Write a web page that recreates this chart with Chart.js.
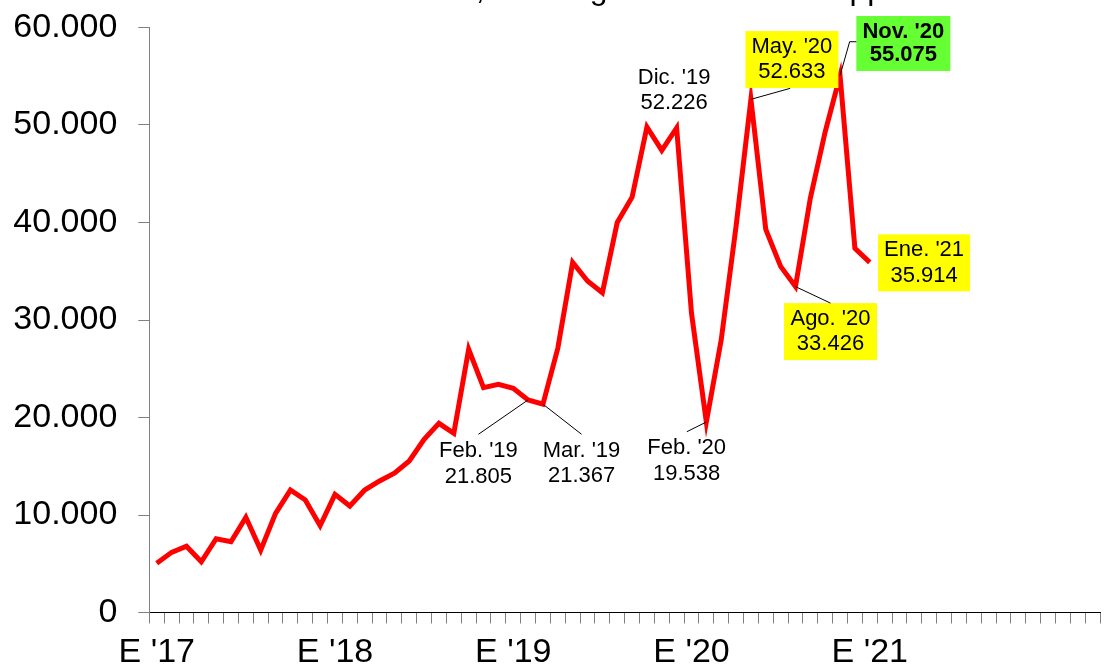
<!DOCTYPE html>
<html>
<head>
<meta charset="utf-8">
<script src="https://cdn.jsdelivr.net/npm/chart.js@4"></script>
<style>
  html, body { margin: 0; padding: 0; background: #fff; }
  #wrap { width: 1107px; height: 667px; }
</style>
</head>
<body>
<div id="wrap"><canvas id="chart"></canvas></div>
<script>
// months Jan 2017 .. Apr 2022 (axis runs past the data)
const months = [
  "Ene '17","Feb '17","Mar '17","Abr '17","May '17","Jun '17","Jul '17","Ago '17","Sep '17","Oct '17","Nov '17","Dic '17",
  "Ene '18","Feb '18","Mar '18","Abr '18","May '18","Jun '18","Jul '18","Ago '18","Sep '18","Oct '18","Nov '18","Dic '18",
  "Ene '19","Feb '19","Mar '19","Abr '19","May '19","Jun '19","Jul '19","Ago '19","Sep '19","Oct '19","Nov '19","Dic '19",
  "Ene '20","Feb '20","Mar '20","Abr '20","May '20","Jun '20","Jul '20","Ago '20","Sep '20","Oct '20","Nov '20","Dic '20",
  "Ene '21","Feb '21","Mar '21","Abr '21","May '21","Jun '21","Jul '21","Ago '21","Sep '21","Oct '21","Nov '21","Dic '21",
  "Ene '22","Feb '22","Mar '22","Abr '22"
];

const ventas = [
  5050, 6170, 6800, 5200, 7570, 7260, 9760, 6400, 10170, 12560, 11540, 8900,
  12120, 10920, 12560, 13490, 14280, 15540, 17760, 19400, 18380, 27000, 23060, 23400,
  23000, 21805, 21367, 27100, 35900, 34000, 32800, 40000, 42600, 49800, 47400, 49700,
  30700, 19538, 27950, 39600, 52633, 39300, 35500, 33426, 42500, 49300, 55075, 37350,
  35914
];

// tick labels shown every 12 months
const yearTicks = ["E '17", "E '18", "E '19", "E '20", "E '21"];
const yTicks = [0, 10000, 20000, 30000, 40000, 50000, 60000];

// callout texts
const calloutIdx = [35, 25, 26, 37, 40, 46, 48, 43];
const calloutText = [
  ["Dic. '19", "52.226"],
  ["Feb. '19", "21.805"],
  ["Mar. '19", "21.367"],
  ["Feb. '20", "19.538"],
  ["May. '20", "52.633"],
  ["Nov. '20", "55.075"],
  ["Ene. '21", "35.914"],
  ["Ago. '20", "33.426"]
];

const titleText = "Ventas mensuales, descargas totales de la app";

const FONT = "'Liberation Sans', Arial, sans-serif";
const fmt = v => String(v).replace(/\B(?=(\d{3})+(?!\d))/g, ".");

// placement of each callout relative to its point
const calloutStyle = [
  { dx: -2.5, dy: -37.4 },
  { dx: -49.7, dy: 63.8, lead: [[-49.7, 34.4]] },
  { dx: 38.6, dy: 59.3, lead: [[38.6, 30.1]] },
  { dx: -19.7, dy: 39, lead: [[-19.5, 9.7]] },
  { dx: 41, dy: -39.8, box: "#ffff00", w: 93, h: 57, lead: [[39.3, -11]] },
  { dx: 63.3, dy: -32, box: "#66ff33", w: 94, h: 55, bold: true, gap: 23.3, lead: [[9.6, -33.8], [16.3, -33.8]] },
  { dx: 54.3, dy: 0.5, box: "#ffff00", w: 92, h: 57 },
  { dx: 35, dy: 45, box: "#ffff00", w: 93, h: 57, lead: [[35, 16.5]] }
];

const calloutPlugin = {
  id: "callouts",
  afterDatasetsDraw(chart) {
    const { ctx, scales } = chart;
    ctx.save();
    calloutIdx.forEach((idx, k) => {
      const st = calloutStyle[k];
      const px = scales.x.getPixelForValue(idx);
      const py = scales.y.getPixelForValue(ventas[idx]);
      const cx = px + st.dx;
      const cy = py + st.dy;

      if (st.box) {
        ctx.fillStyle = st.box;
        ctx.fillRect(cx - st.w / 2, cy - st.h / 2, st.w, st.h);
      }
      if (st.lead) {
        ctx.strokeStyle = "#000";
        ctx.lineWidth = 1;
        ctx.beginPath();
        ctx.moveTo(px, py);
        st.lead.forEach(p => ctx.lineTo(px + p[0], py + p[1]));
        ctx.stroke();
      }
      const gap = st.gap || 25.6;
      ctx.fillStyle = "#000";
      ctx.font = (st.bold ? "bold " : "") + "22px " + FONT;
      ctx.textAlign = "center";
      ctx.textBaseline = "middle";
      ctx.fillText(calloutText[k][0], cx, cy - gap / 2);
      ctx.fillText(calloutText[k][1], cx, cy + gap / 2);
    });
    ctx.restore();
  }
};

// title sits mostly above the picture, only its lower edge shows
const titlePlugin = {
  id: "cutTitle",
  afterDraw(chart) {
    const ctx = chart.ctx;
    ctx.save();
    ctx.fillStyle = "#000";
    ctx.font = "32px " + FONT;
    ctx.textAlign = "right";
    ctx.textBaseline = "alphabetic";
    ctx.fillText(titleText, 885, -1);
    ctx.restore();
  }
};

new Chart(document.getElementById("chart"), {
  type: "line",
  data: {
    labels: months,
    datasets: [{
      data: ventas,
      borderColor: "#ff0000",
      borderWidth: 5,
      pointRadius: 0,
      tension: 0,
      fill: false,
      borderJoinStyle: "miter"
    }]
  },
  options: {
    responsive: true,
    maintainAspectRatio: false,
    animation: false,
    layout: { padding: { top: 27.5, right: 7, left: 0, bottom: 0 } },
    plugins: { legend: { display: false }, tooltip: { enabled: false } },
    scales: {
      x: {
        offset: true,
        grid: { offset: true, drawOnChartArea: false, tickLength: 11, color: "#808080" },
        border: { color: "#000", width: 1 },
        ticks: {
          autoSkip: false, maxRotation: 0, minRotation: 0, padding: 9,
          color: "#000", font: { family: FONT, size: 34 },
          callback: (v, i) => (i % 12 === 0 && yearTicks[i / 12]) ? yearTicks[i / 12] : ""
        },
        afterFit(s) { s.height = 54.5; s.paddingLeft = 0; s.paddingRight = 0; }
      },
      y: {
        min: 0, max: 60000,
        afterBuildTicks(s) { s.ticks = yTicks.map(v => ({ value: v })); },
        grid: { drawOnChartArea: false, tickLength: 11, color: "#808080" },
        border: { color: "#808080", width: 1 },
        ticks: {
          padding: 21, color: "#000", font: { family: FONT, size: 34 },
          callback: v => fmt(v)
        },
        afterFit(s) { s.width = 149.3; s.paddingTop = 0; s.paddingBottom = 0; }
      }
    }
  },
  plugins: [calloutPlugin, titlePlugin]
});
</script>
</body>
</html>
